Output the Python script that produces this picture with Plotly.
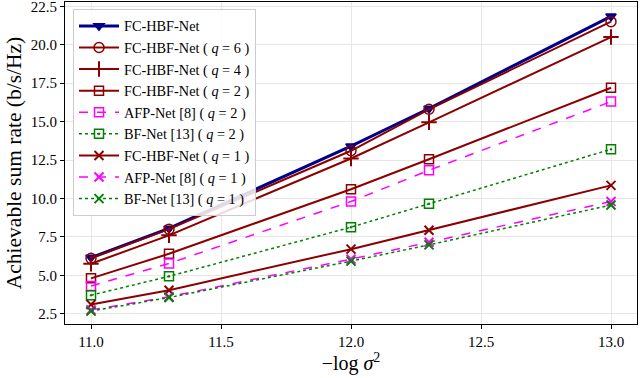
import plotly.graph_objects as go

x_vals = [11.0, 11.3, 12.0, 12.3, 13.0]
fc_full = [6.15, 8.05, 13.4, 15.85, 21.85]
fc_q6 = [6.1, 8.0, 13.1, 15.8, 21.5]
fc_q4 = [5.75, 7.6, 12.6, 14.95, 20.5]
fc_q2 = [4.8, 6.4, 10.6, 12.55, 17.2]
afp_q2 = [4.3, 5.77, 9.8, 11.83, 16.3]
bf_q2 = [3.7, 4.93, 8.13, 9.65, 13.2]
fc_q1 = [3.1, 4.03, 6.7, 7.93, 10.85]
afp_q1 = [2.75, 3.6, 6.05, 7.15, 9.8]
bf_q1 = [2.67, 3.55, 5.92, 6.98, 9.57]

names = [
    "FC-HBF-Net",
    "FC-HBF-Net ( <i>q</i> = 6 )",
    "FC-HBF-Net ( <i>q</i> = 4 )",
    "FC-HBF-Net ( <i>q</i> = 2 )",
    "AFP-Net [8] ( <i>q</i> = 2 )",
    "BF-Net [13] ( <i>q</i> = 2 )",
    "FC-HBF-Net ( <i>q</i> = 1 )",
    "AFP-Net [8] ( <i>q</i> = 1 )",
    "BF-Net [13] ( <i>q</i> = 1 )",
]
series = [fc_full, fc_q6, fc_q4, fc_q2, afp_q2, bf_q2, fc_q1, afp_q1, bf_q1]

NAVY = "#00008B"
DRED = "#8B0000"
MAG = "#FF00FF"
GRN = "#008000"

styles = [
    dict(color=NAVY, dash="solid", width=3, symbol="triangle-down", msize=9),
    dict(color=DRED, dash="solid", width=2, symbol="circle-open", msize=10),
    dict(color=DRED, dash="solid", width=2, symbol="cross-thin-open", msize=11),
    dict(color=DRED, dash="solid", width=2, symbol="square-open", msize=9),
    dict(color=MAG, dash="dash", width=1.5, symbol="square-open", msize=9),
    dict(color=GRN, dash="dot", width=1.5, symbol="square-open-dot", msize=9),
    dict(color=DRED, dash="solid", width=2, symbol="x-thin-open", msize=9),
    dict(color=MAG, dash="dash", width=1.5, symbol="x-thin-open", msize=9),
    dict(color=GRN, dash="dot", width=1.5, symbol="x-thin-open", msize=9),
]

fig = go.Figure()
for name, ys, st in zip(names, series, styles):
    marker = dict(symbol=st["symbol"], size=st["msize"], color=st["color"],
                  line=dict(color=st["color"], width=2 if "thin" in st["symbol"] else 1.5))
    fig.add_trace(go.Scatter(
        x=x_vals, y=ys, name=name, mode="lines+markers",
        line=dict(color=st["color"], dash=st["dash"], width=st["width"]),
        marker=marker,
    ))

font_fam = "Liberation Serif, Times New Roman, serif"
fig.update_layout(
    width=640, height=378,
    margin=dict(l=65, r=3, t=2, b=54),
    paper_bgcolor="white", plot_bgcolor="white",
    font=dict(family=font_fam, size=15, color="black"),
    legend=dict(
        x=0.014, y=0.978, xanchor="left", yanchor="top",
        bgcolor="rgba(255,255,255,0.85)", bordercolor="#cccccc", borderwidth=1,
        font=dict(family=font_fam, size=14.3, color="black"),
        tracegroupgap=0, itemwidth=40,
    ),
    showlegend=True,
)
fig.update_xaxes(
    range=[10.9, 13.1], tickvals=[11.0, 11.5, 12.0, 12.5, 13.0],
    ticktext=["11.0", "11.5", "12.0", "12.5", "13.0"],
    showgrid=True, gridcolor="#e6e6e6", gridwidth=1,
    showline=True, linecolor="black", linewidth=1.2, mirror=True,
    ticks="outside", ticklen=4, tickcolor="black",
    tickfont=dict(size=15), automargin=False, ticklabeloverflow="allow",
    title=dict(text="\u2212log <i>\u03c3</i><sup>2</sup>", font=dict(size=20), standoff=6),
    zeroline=False,
)
fig.update_yaxes(
    range=[1.83, 22.78], tickvals=[2.5, 5.0, 7.5, 10.0, 12.5, 15.0, 17.5, 20.0, 22.5],
    ticktext=["2.5", "5.0", "7.5", "10.0", "12.5", "15.0", "17.5", "20.0", "22.5"],
    showgrid=True, gridcolor="#e6e6e6", gridwidth=1,
    showline=True, linecolor="black", linewidth=1.2, mirror=True,
    ticks="outside", ticklen=4, tickcolor="black",
    tickfont=dict(size=15), automargin=False, ticklabeloverflow="allow",
    title=dict(text="Achievable sum rate (b/s/Hz)", font=dict(size=21.5), standoff=3),
    zeroline=False,
)

fig.write_html("out.html", config={"displayModeBar": False},
               post_script="document.body.style.margin='0';document.body.style.padding='0';")
